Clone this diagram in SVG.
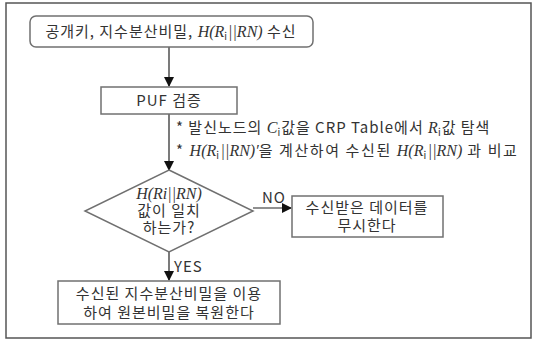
<svg xmlns="http://www.w3.org/2000/svg" width="533" height="341" viewBox="0 0 533 341">
<style>
.box{fill:#fff;stroke:#707070;stroke-width:1.5}
.t{font-family:"Noto Sans CJK KR","Noto Sans",sans-serif;font-size:15px;letter-spacing:1px;fill:#333;text-anchor:middle}
.a{font-family:"Noto Sans CJK KR","Noto Sans",sans-serif;font-size:15px;letter-spacing:1px;fill:#333}
.m{font-family:"Liberation Serif",serif;font-style:italic;font-size:16px;letter-spacing:0}
.s{font-size:10px}
.w{letter-spacing:1.6px}
.c{stroke:#222;stroke-width:1.2;fill:none}
</style>
<defs>
<marker id="ah" markerWidth="10" markerHeight="10" refX="9" refY="5" orient="auto" markerUnits="userSpaceOnUse">
<path d="M0,0 L10,5 L0,10 Z" fill="#111"/>
</marker>
</defs>
<rect x="6" y="3" width="525" height="335" fill="#fff" stroke="#555" stroke-width="1.5"/>
<g id="connectors">
<line class="c" x1="169" y1="47" x2="169" y2="86" marker-end="url(#ah)"/>
<line class="c" x1="169" y1="114" x2="169" y2="170" marker-end="url(#ah)"/>
<line class="c" x1="253" y1="208" x2="291" y2="208" marker-end="url(#ah)"/>
<line class="c" x1="169" y1="252" x2="169" y2="280" marker-end="url(#ah)"/>
<text class="a" x="262" y="203">NO</text>
<text class="a" x="174" y="272">YES</text>
</g>
<g id="n1">
<rect class="box" x="30" y="16" width="283" height="31" rx="6"/>
<text class="t" x="171" y="37">공개키, 지수분산비밀, <tspan class="m">H</tspan><tspan class="m">(R</tspan><tspan class="s" dy="3">i</tspan><tspan class="m" dy="-3">||RN)</tspan> 수신</text>
</g>
<g id="n2">
<rect class="box" x="101" y="87" width="136" height="27"/>
<text class="t" x="169" y="106">PUF 검증</text>
</g>
<g id="notes">
<text class="a" x="176" y="133">* 발신노드의 <tspan class="m">C</tspan><tspan class="s" dy="3">i</tspan><tspan dy="-3">값을 CRP Table에서 </tspan><tspan class="m">R</tspan><tspan class="s" dy="3">i</tspan><tspan dy="-3">값 탐색</tspan></text>
<text class="a w" x="176" y="156">* <tspan class="m">H(R</tspan><tspan class="s" dy="3">i</tspan><tspan class="m" dy="-3">||RN)′</tspan>을 계산하여 수신된 <tspan class="m">H(R</tspan><tspan class="s" dy="3">i</tspan><tspan class="m" dy="-3">||RN)</tspan> 과 비교</text>
</g>
<g id="n3">
<polygon class="box" points="169,170 253,211 169,252 85,211"/>
<text class="t" x="169" y="199"><tspan class="m">H(Ri||RN)</tspan></text>
<text class="t" x="169" y="216">값이 일치</text>
<text class="t" x="169" y="233">하는가?</text>
</g>
<g id="n4">
<rect class="box" x="292" y="196" width="151" height="41"/>
<text class="t" x="367" y="213">수신받은 데이터를</text>
<text class="t" x="367" y="231">무시한다</text>
</g>
<g id="n5">
<rect class="box" x="58" y="281" width="222" height="43"/>
<text class="t" x="169" y="299">수신된 지수분산비밀을 이용</text>
<text class="t" x="169" y="318">하여 원본비밀을 복원한다</text>
</g>
</svg>
